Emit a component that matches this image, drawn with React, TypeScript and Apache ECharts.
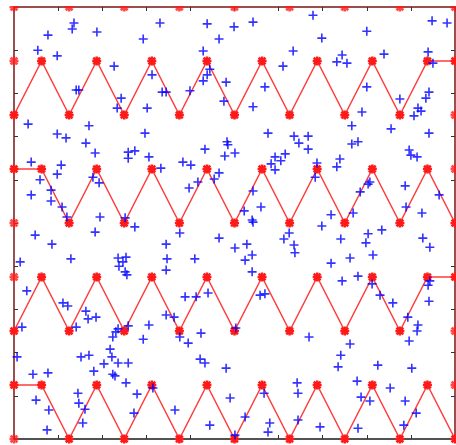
import React, { useEffect, useRef } from "react";
import * as echarts from "echarts";

// Lattice spacing of the unit square: 16 columns by 8 rows
const COLS = 16;
const ROWS = 8;

// Row level of each zigzag path at columns 0..16
const zigzagBottom = [1, 1, 0, 1, 0, 1, 0, 1, 0, 1, 0, 1, 0, 1, 0, 1, 0];
const zigzagLow = [2, 3, 2, 3, 2, 3, 2, 3, 2, 3, 2, 3, 2, 3, 2, 3, 3];
const zigzagHigh = [5, 5, 4, 5, 4, 5, 4, 5, 4, 5, 4, 5, 4, 5, 4, 5, 4];
const zigzagTop = [6, 7, 6, 7, 6, 7, 6, 7, 6, 7, 6, 7, 6, 7, 6, 7, 7];

// Lattice nodes that sit on the boundary but not on a path: [column, row]
const edgeNodes = [
  [0, 0], [16, 1], [16, 2], [0, 3], [0, 4], [16, 5], [16, 6], [0, 7],
];
const topNodes = [
  [0, 8], [2, 8], [4, 8], [6, 8], [8, 8], [10, 8], [12, 8], [14, 8], [16, 8],
];

// Random sample locations in the unit square
const samplesUpper: [number, number][] = [
  [0.136, 0.963], [0.132, 0.949], [0.077, 0.935], [0.188, 0.942], [0.331, 0.963],
  [0.293, 0.926], [0.054, 0.9], [0.098, 0.887], [0.227, 0.863], [0.313, 0.843],
  [0.141, 0.808], [0.147, 0.808], [0.243, 0.789], [0.234, 0.766], [0.302, 0.766],
  [0.032, 0.729], [0.17, 0.725], [0.098, 0.706], [0.118, 0.697], [0.163, 0.685],
  [0.297, 0.708], [0.184, 0.662], [0.259, 0.664], [0.274, 0.667], [0.259, 0.65],
  [0.306, 0.653], [0.333, 0.627], [0.039, 0.641], [0.107, 0.634], [0.098, 0.613],
  [0.059, 0.6], [0.179, 0.606], [0.193, 0.593], [0.084, 0.576], [0.039, 0.565],
  [0.084, 0.551], [0.109, 0.537], [0.12, 0.514], [0.195, 0.514], [0.252, 0.512],
  [0.438, 0.961], [0.499, 0.954], [0.542, 0.965], [0.465, 0.926], [0.429, 0.898],
  [0.633, 0.898], [0.61, 0.863], [0.444, 0.856], [0.438, 0.843], [0.429, 0.829],
  [0.481, 0.826], [0.336, 0.803], [0.345, 0.803], [0.399, 0.806], [0.569, 0.815],
  [0.476, 0.782], [0.542, 0.769], [0.576, 0.708], [0.635, 0.701], [0.646, 0.685],
  [0.667, 0.701], [0.667, 0.671], [0.433, 0.671], [0.483, 0.688], [0.485, 0.681],
  [0.478, 0.655], [0.501, 0.662], [0.383, 0.641], [0.401, 0.634], [0.592, 0.653],
  [0.615, 0.66], [0.605, 0.644], [0.583, 0.637], [0.592, 0.623], [0.465, 0.616],
  [0.454, 0.602], [0.417, 0.595], [0.397, 0.581], [0.542, 0.574], [0.56, 0.537],
  [0.522, 0.528], [0.54, 0.507], [0.678, 0.981], [0.948, 0.968], [0.982, 0.963],
  [0.8, 0.944], [0.698, 0.928], [0.744, 0.889], [0.732, 0.873], [0.755, 0.87],
  [0.839, 0.891], [0.939, 0.896], [0.95, 0.87], [0.8, 0.815], [0.941, 0.803],
  [0.934, 0.789], [0.875, 0.787], [0.916, 0.766], [0.923, 0.759], [0.907, 0.748],
  [0.789, 0.757], [0.766, 0.725], [0.855, 0.718], [0.941, 0.708], [0.766, 0.683],
  [0.78, 0.688], [0.896, 0.669], [0.9, 0.657], [0.914, 0.653], [0.739, 0.648],
  [0.687, 0.639], [0.732, 0.63], [0.683, 0.606], [0.807, 0.595], [0.803, 0.59],
  [0.785, 0.572], [0.887, 0.586], [0.964, 0.565], [0.889, 0.537], [0.719, 0.519],
  [0.769, 0.523], [0.925, 0.523],
];

const samplesLower: [number, number][] = [
  [0.274, 0.491], [0.184, 0.479], [0.048, 0.472], [0.086, 0.451], [0.129, 0.417],
  [0.014, 0.41], [0.236, 0.419], [0.254, 0.421], [0.247, 0.41], [0.238, 0.4],
  [0.252, 0.387], [0.256, 0.38], [0.029, 0.343], [0.111, 0.315], [0.122, 0.308],
  [0.163, 0.296], [0.168, 0.278], [0.186, 0.282], [0.018, 0.259], [0.141, 0.259],
  [0.236, 0.255], [0.231, 0.248], [0.224, 0.236], [0.259, 0.262], [0.306, 0.264],
  [0.293, 0.231], [0.218, 0.208], [0.007, 0.19], [0.152, 0.19], [0.17, 0.194],
  [0.222, 0.19], [0.236, 0.176], [0.204, 0.174], [0.259, 0.176], [0.181, 0.157],
  [0.224, 0.15], [0.229, 0.146], [0.043, 0.15], [0.077, 0.153], [0.254, 0.13],
  [0.279, 0.104], [0.315, 0.118], [0.145, 0.106], [0.05, 0.09], [0.147, 0.083],
  [0.161, 0.069], [0.079, 0.067], [0.272, 0.06], [0.156, 0.037], [0.075, 0.021],
  [0.376, 0.477], [0.542, 0.502], [0.624, 0.477], [0.612, 0.463], [0.465, 0.465],
  [0.345, 0.451], [0.501, 0.442], [0.528, 0.451], [0.54, 0.426], [0.524, 0.414],
  [0.635, 0.449], [0.637, 0.431], [0.347, 0.417], [0.41, 0.417], [0.345, 0.391],
  [0.54, 0.387], [0.388, 0.329], [0.413, 0.329], [0.44, 0.338], [0.558, 0.333],
  [0.569, 0.336], [0.345, 0.287], [0.363, 0.282], [0.376, 0.236], [0.395, 0.222],
  [0.424, 0.245], [0.503, 0.257], [0.669, 0.236], [0.422, 0.185], [0.433, 0.176],
  [0.481, 0.164], [0.642, 0.13], [0.644, 0.106], [0.567, 0.106], [0.49, 0.095],
  [0.365, 0.067], [0.524, 0.051], [0.644, 0.044], [0.444, 0.032], [0.58, 0.037],
  [0.576, 0.016], [0.501, 0.009], [0.698, 0.493], [0.834, 0.484], [0.803, 0.475],
  [0.798, 0.454], [0.741, 0.463], [0.927, 0.465], [0.943, 0.444], [0.719, 0.407],
  [0.762, 0.419], [0.814, 0.426], [0.744, 0.366], [0.78, 0.377], [0.943, 0.366],
  [0.939, 0.356], [0.812, 0.359], [0.83, 0.333], [0.859, 0.315], [0.941, 0.319],
  [0.893, 0.282], [0.916, 0.264], [0.914, 0.25], [0.896, 0.227], [0.762, 0.22],
  [0.741, 0.194], [0.735, 0.167], [0.825, 0.171], [0.902, 0.164], [0.778, 0.134],
  [0.853, 0.118], [0.787, 0.097], [0.807, 0.088], [0.887, 0.088], [0.912, 0.06],
  [0.884, 0.032], [0.694, 0.028], [0.78, 0.025],
];

// Filled "+" and "*" glyphs
const PLUS =
  "path://M-1,-0.18L1,-0.18L1,0.18L-1,0.18Z M-0.18,-1L0.18,-1L0.18,1L-0.18,1Z";
const ASTERISK =
  "path://M-1,-0.28L1,-0.28L1,0.28L-1,0.28Z" +
  " M-0.28,-1L0.28,-1L0.28,1L-0.28,1Z" +
  " M-0.55,-0.95L0.95,0.55L0.55,0.95L-0.95,-0.55Z" +
  " M-0.55,0.95L-0.95,0.55L0.55,-0.95L0.95,-0.55Z";

const RED = "#ff1a1a";
const BLUE = "#0000ff";
const FRAME = "#7a1414";

const toLattice = (nodes: number[][]) => nodes.map(([c, r]) => [c / COLS, r / ROWS]);
const pathData = (levels: number[]) => levels.map((r, c) => [c / COLS, r / ROWS]);

const axis = (position: string, color: string) => ({
  type: "value",
  min: 0,
  max: 1,
  interval: 0.1,
  position,
  axisLine: { show: true, onZero: false, lineStyle: { color, width: 1.5 } },
  axisTick: { show: true, inside: true, length: 4, lineStyle: { color: "#333", width: 1 } },
  axisLabel: { show: false },
  splitLine: { show: false },
});

const zigzagSeries = (levels: number[]) => ({
  type: "line",
  data: pathData(levels),
  symbol: ASTERISK,
  symbolSize: 9,
  showAllSymbol: true,
  clip: false,
  lineStyle: { color: RED, width: 1.5, opacity: 0.85 },
  itemStyle: { color: RED },
  z: 2,
});

export default function App() {
  const ref = useRef<HTMLDivElement>(null);

  useEffect(() => {
    if (!ref.current) return;
    const chart = echarts.init(ref.current, undefined, { renderer: "svg" });
    chart.setOption({
      animation: false,
      backgroundColor: "#ffffff",
      grid: { left: 14, top: 7, width: 441, height: 432, containLabel: false, outerBoundsMode: "none" },
      xAxis: [axis("bottom", "#1a1a1a"), axis("top", FRAME)],
      yAxis: [axis("left", FRAME), axis("right", FRAME)],
      series: [
        zigzagSeries(zigzagBottom),
        zigzagSeries(zigzagLow),
        zigzagSeries(zigzagHigh),
        zigzagSeries(zigzagTop),
        {
          type: "scatter",
          data: toLattice(edgeNodes),
          symbol: ASTERISK,
          symbolSize: 9,
          clip: false,
          itemStyle: { color: RED },
          z: 2,
        },
        {
          type: "scatter",
          data: toLattice(topNodes),
          symbol: ASTERISK,
          symbolSize: 9,
          clip: false,
          itemStyle: { color: RED },
          z: 2,
        },
        {
          type: "scatter",
          data: [...samplesUpper, ...samplesLower],
          symbol: PLUS,
          symbolSize: 9,
          clip: false,
          itemStyle: { color: BLUE },
          z: 3,
        },
      ],
      graphic: [
        {
          type: "rect",
          shape: { x: 0, y: 0, width: 456, height: 6 },
          style: { fill: "#ffffff" },
          z: 100,
        },
      ],
    });
    return () => chart.dispose();
  }, []);

  return (
    <div
      ref={ref}
      style={{ position: "absolute", left: 0, top: 0, width: 456, height: 445 }}
    />
  );
}
